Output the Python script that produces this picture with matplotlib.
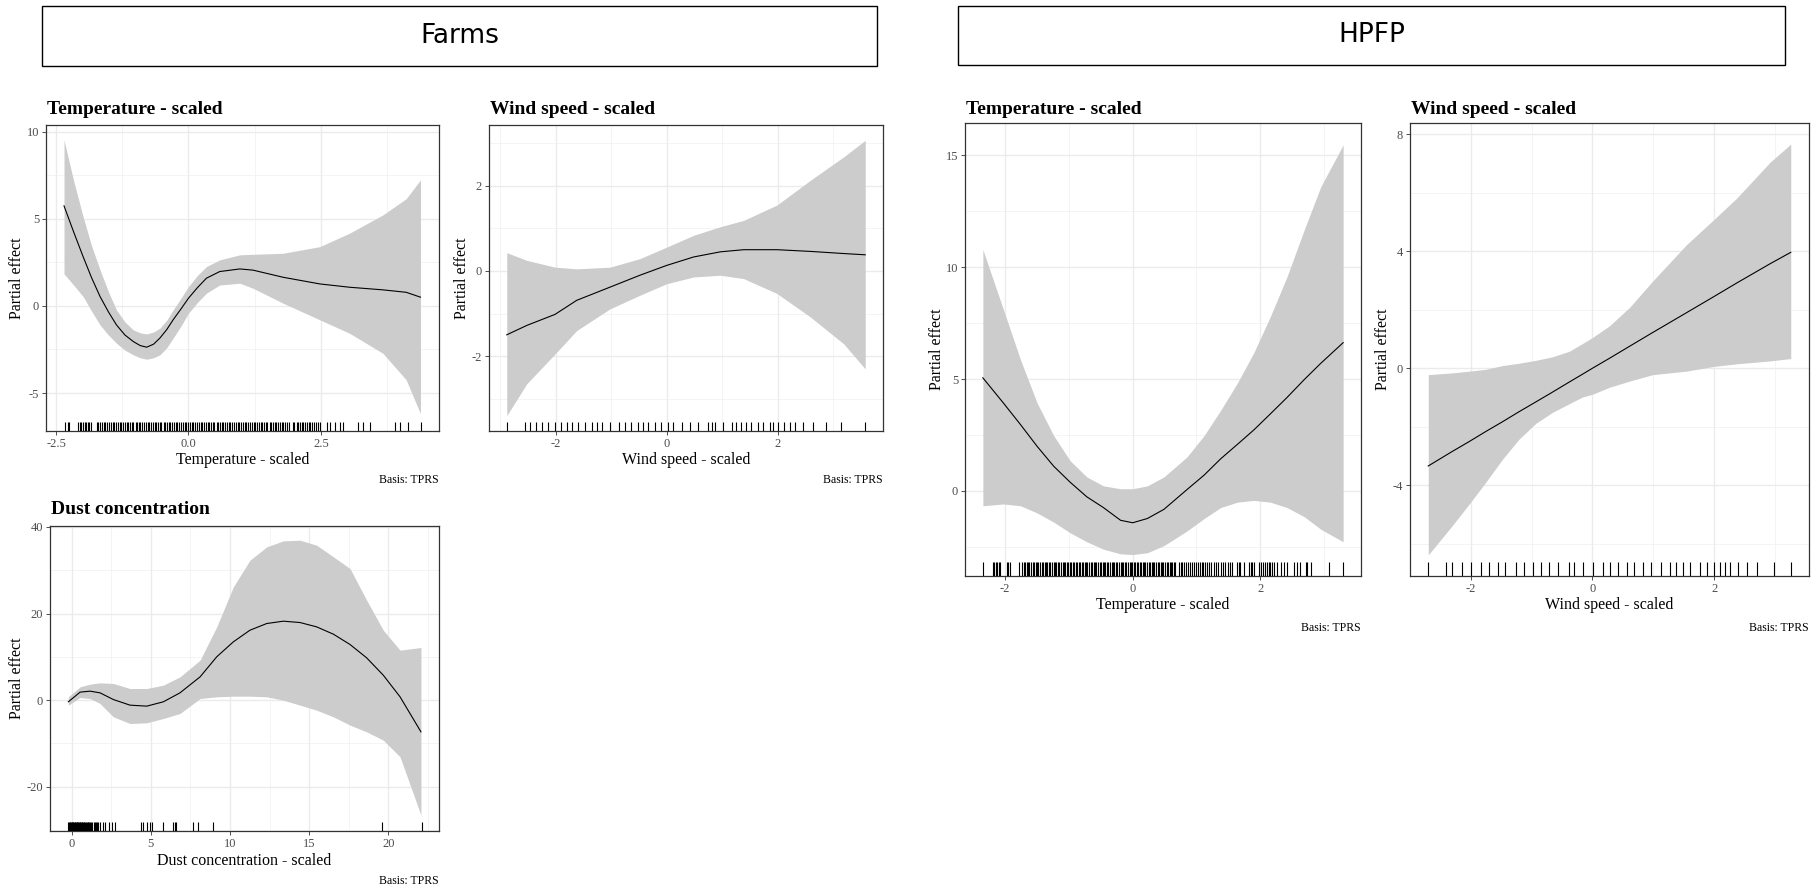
import matplotlib
matplotlib.use("Agg")
import matplotlib.pyplot as plt
from matplotlib.patches import Rectangle

plt.rcParams['font.family'] = ['Liberation Serif', 'DejaVu Serif']
plt.rcParams['axes.unicode_minus'] = False

W, H = 1818, 889

# ---------------- Farms: temperature ----------------
farm_temp_x = [-2.35, -2.17, -1.99, -1.83, -1.67, -1.51, -1.36, -1.20, -1.04, -0.91, -0.79,
               -0.66, -0.54, -0.41, -0.29, -0.14, 0.00, 0.17, 0.34, 0.59, 0.97, 1.22,
               1.79, 2.48, 3.04, 3.67, 4.11, 4.38]
farm_temp_fit = [5.74, 4.26, 2.83, 1.62, 0.54, -0.35, -1.09, -1.67, -2.05, -2.28, -2.37,
                 -2.20, -1.85, -1.36, -0.80, -0.17, 0.44, 1.05, 1.59, 1.97, 2.12, 2.05,
                 1.64, 1.26, 1.07, 0.92, 0.78, 0.50]
farm_temp_hi = [9.52, 7.20, 5.12, 3.45, 2.07, 0.80, -0.23, -0.92, -1.38, -1.55, -1.61,
                -1.50, -1.28, -0.82, -0.23, 0.45, 1.11, 1.75, 2.26, 2.64, 2.93, 2.96,
                3.02, 3.40, 4.17, 5.22, 6.15, 7.23]
farm_temp_lo = [1.84, 1.20, 0.54, -0.30, -1.09, -1.68, -2.14, -2.54, -2.81, -2.98, -3.06,
                -2.98, -2.81, -2.40, -1.85, -1.15, -0.42, 0.20, 0.73, 1.20, 1.30, 1.01,
                0.15, -0.80, -1.57, -2.72, -4.24, -6.19]
farm_temp_rug = [-2.33, -2.28, -2.25, -2.08, -2.05, -2.02, -1.99, -1.96, -1.93, -1.90,
                 -1.87, -1.84, -1.73, -1.70, -1.67, -1.63, -1.60, -1.57, -1.53, -1.50,
                 -1.47, -1.43, -1.41, -1.37, -1.34, -1.30, -1.27, -1.24, -1.20, -1.17,
                 -1.14, -1.10, -1.07, -1.04, -1.00, -0.97, -0.94, -0.91, -0.87, -0.84,
                 -0.81, -0.77, -0.74, -0.71, -0.67, -0.64, -0.61, -0.57, -0.54, -0.51,
                 -0.47, -0.44, -0.41, -0.37, -0.34, -0.31, -0.27, -0.24, -0.21, -0.17,
                 -0.14, -0.11, -0.07, -0.04, -0.01, 0.03, 0.06, 0.09, 0.13, 0.16,
                 0.19, 0.23, 0.26, 0.29, 0.33, 0.36, 0.39, 0.43, 0.46, 0.49,
                 0.53, 0.56, 0.59, 0.63, 0.66, 0.69, 0.73, 0.76, 0.79, 0.83,
                 0.86, 0.89, 0.93, 0.96, 0.99, 1.03, 1.06, 1.09, 1.13, 1.16,
                 1.19, 1.23, 1.26, 1.29, 1.33, 1.36, 1.39, 1.43, 1.46, 1.49,
                 1.53, 1.56, 1.59, 1.63, 1.66, 1.69, 1.73, 1.76, 1.79, 1.83,
                 1.86, 1.89, 1.97, 2.00, 2.04, 2.07, 2.10, 2.14, 2.17, 2.20,
                 2.24, 2.27, 2.30, 2.34, 2.37, 2.40, 2.44, 2.48, 2.61, 2.67,
                 2.76, 2.86, 2.92, 3.20, 3.29, 3.42, 3.90, 3.99, 4.14, 4.39]

# ---------------- Farms: wind speed ----------------
farm_wind_x = [-2.88, -2.52, -2.01, -1.62, -1.02, -0.48, 0.00, 0.49, 0.97, 1.39,
               1.99, 2.59, 3.19, 3.58]
farm_wind_fit = [-1.50, -1.28, -1.02, -0.69, -0.38, -0.10, 0.13, 0.33, 0.45, 0.50,
                 0.50, 0.46, 0.41, 0.38]
farm_wind_hi = [0.43, 0.25, 0.09, 0.05, 0.09, 0.29, 0.56, 0.84, 1.04, 1.19,
                1.55, 2.13, 2.68, 3.07]
farm_wind_lo = [-3.40, -2.65, -1.95, -1.40, -0.89, -0.57, -0.30, -0.14, -0.10, -0.18,
                -0.53, -1.08, -1.71, -2.30]
farm_wind_rug = [-2.88, -2.56, -2.46, -2.36, -2.25, -2.14, -2.01, -1.90, -1.80, -1.70,
                 -1.59, -1.47, -1.35, -1.26, -1.16, -1.02, -0.86, -0.75, -0.64, -0.52,
                 -0.42, -0.33, -0.21, -0.10, 0.02, 0.12, 0.27, 0.42, 0.57, 0.75,
                 0.82, 0.87, 1.02, 1.17, 1.26, 1.35, 1.44, 1.53, 1.64, 1.74,
                 1.86, 1.92, 2.01, 2.12, 2.22, 2.31, 2.46, 2.64, 2.88, 3.15, 3.57]

# ---------------- Farms: dust concentration ----------------
dust_x = [-0.21, 0.53, 1.16, 1.79, 2.63, 3.68, 4.74, 5.79, 6.84, 8.11, 9.16, 10.21,
          11.26, 12.32, 13.37, 14.42, 15.47, 16.53, 17.58, 18.63, 19.68, 20.74, 22.06]
dust_fit = [-0.38, 1.85, 2.08, 1.69, 0.15, -1.15, -1.38, -0.38, 1.69, 5.38, 10.00, 13.46,
            16.15, 17.69, 18.23, 17.92, 16.92, 15.23, 12.85, 9.77, 5.77, 0.77, -7.31]
dust_hi = [0.77, 3.08, 3.69, 4.00, 3.85, 2.69, 2.69, 3.46, 5.38, 9.23, 16.92, 26.15,
           32.31, 35.38, 36.77, 36.92, 35.77, 33.08, 30.38, 23.08, 16.15, 11.54, 12.15]
dust_lo = [-1.15, 0.62, 0.38, -0.77, -3.85, -5.38, -5.23, -4.23, -3.08, 0.38, 0.77, 0.92,
           0.92, 0.77, 0.00, -1.15, -2.31, -3.85, -5.77, -7.31, -9.23, -13.08, -26.54]
dust_rug = [-0.21, -0.17, -0.13, -0.09, -0.05, -0.01, 0.03, 0.07, 0.11, 0.15,
            0.19, 0.23, 0.27, 0.31, 0.35, 0.39, 0.43, 0.47, 0.51, 0.55,
            0.59, 0.63, 0.67, 0.71, 0.75, 0.80, 0.85, 0.90, 0.95, 1.00,
            1.06, 1.12, 1.18, 1.25, 1.31, 1.38, 1.45, 1.52, 1.60, 1.68,
            1.79, 1.96, 2.10, 2.38, 2.53, 2.74, 4.36, 4.49, 4.74, 4.95,
            5.05, 5.75, 6.42, 6.51, 6.59, 7.68, 8.00, 8.95, 19.58, 22.11]

# ---------------- HPFP: temperature ----------------
hpfp_temp_x = [-2.35, -2.03, -1.76, -1.50, -1.24, -0.98, -0.72, -0.46, -0.19, 0.00, 0.23,
               0.49, 0.85, 1.12, 1.38, 1.64, 1.90, 2.16, 2.42, 2.69, 2.95, 3.30]
hpfp_temp_fit = [5.06, 3.94, 2.97, 2.00, 1.11, 0.39, -0.26, -0.74, -1.31, -1.42, -1.23,
                 -0.82, 0.06, 0.71, 1.44, 2.08, 2.73, 3.45, 4.18, 4.98, 5.71, 6.63]
hpfp_temp_hi = [10.79, 8.13, 5.87, 3.94, 2.48, 1.35, 0.63, 0.23, 0.10, 0.10, 0.23,
                0.63, 1.52, 2.48, 3.61, 4.82, 6.19, 7.81, 9.58, 11.68, 13.61, 15.47]
hpfp_temp_lo = [-0.66, -0.58, -0.66, -0.98, -1.39, -1.87, -2.27, -2.60, -2.81, -2.84, -2.76,
                -2.44, -1.79, -1.23, -0.74, -0.50, -0.42, -0.50, -0.74, -1.15, -1.71, -2.27]
hpfp_temp_rug = [-2.35, -2.19, -2.17, -2.15, -2.13, -2.10, -2.08, -1.97, -1.95, -1.92,
                 -1.79, -1.73, -1.71, -1.69, -1.66, -1.64, -1.62, -1.59, -1.57, -1.55,
                 -1.52, -1.50, -1.48, -1.45, -1.43, -1.41, -1.38, -1.36, -1.34, -1.31,
                 -1.29, -1.27, -1.24, -1.22, -1.20, -1.17, -1.15, -1.13, -1.10, -1.08,
                 -1.06, -1.03, -1.01, -0.99, -0.96, -0.94, -0.92, -0.89, -0.87, -0.85,
                 -0.82, -0.80, -0.78, -0.75, -0.73, -0.71, -0.68, -0.66, -0.64, -0.61,
                 -0.59, -0.57, -0.54, -0.52, -0.50, -0.47, -0.45, -0.43, -0.40, -0.38,
                 -0.36, -0.33, -0.31, -0.29, -0.26, -0.24, -0.22, -0.19, -0.17, -0.15,
                 -0.12, -0.10, -0.08, -0.05, -0.03, -0.01, 0.02, 0.04, 0.06, 0.09,
                 0.11, 0.13, 0.16, 0.18, 0.20, 0.23, 0.25, 0.27, 0.30, 0.32,
                 0.34, 0.37, 0.39, 0.41, 0.44, 0.46, 0.48, 0.51, 0.53, 0.55,
                 0.58, 0.60, 0.62, 0.65, 0.67, 0.72, 0.75, 0.78, 0.81, 0.84,
                 0.87, 0.90, 0.93, 0.96, 0.99, 1.02, 1.05, 1.08, 1.11, 1.14,
                 1.17, 1.20, 1.23, 1.27, 1.30, 1.34, 1.38, 1.41, 1.45, 1.49,
                 1.53, 1.56, 1.64, 1.66, 1.69, 1.74, 1.82, 1.85, 1.87, 1.90,
                 1.98, 2.01, 2.04, 2.07, 2.10, 2.13, 2.16, 2.19, 2.21, 2.27,
                 2.32, 2.37, 2.42, 2.53, 2.58, 2.63, 2.71, 2.74, 2.79, 3.08, 3.30]

# ---------------- HPFP: wind speed ----------------
hpfp_wind_x = [-2.70, -2.31, -2.03, -1.76, -1.48, -1.21, -0.93, -0.66, -0.38, -0.16,
               0.00, 0.28, 0.61, 0.99, 1.54, 1.99, 2.37, 2.92, 3.26]
hpfp_wind_fit = [-3.34, -2.85, -2.51, -2.17, -1.83, -1.49, -1.15, -0.82, -0.47, -0.20,
                 0.00, 0.34, 0.75, 1.22, 1.89, 2.44, 2.91, 3.57, 3.96]
hpfp_wind_hi = [-0.22, -0.16, -0.10, -0.04, 0.09, 0.17, 0.27, 0.39, 0.58, 0.85,
                1.05, 1.45, 2.08, 2.98, 4.21, 5.07, 5.81, 7.04, 7.66]
hpfp_wind_lo = [-6.38, -5.39, -4.65, -3.91, -3.11, -2.43, -1.88, -1.51, -1.21, -0.98,
                -0.89, -0.65, -0.44, -0.22, -0.10, 0.06, 0.15, 0.25, 0.33]
hpfp_wind_rug = [-2.70, -2.40, -2.31, -2.14, -2.00, -1.84, -1.70, -1.56, -1.43, -1.26,
                 -1.12, -0.98, -0.85, -0.71, -0.57, -0.39, -0.30, -0.16, 0.01, 0.17,
                 0.28, 0.42, 0.56, 0.69, 0.83, 0.97, 1.13, 1.27, 1.38, 1.49,
                 1.60, 1.77, 1.88, 1.99, 2.10, 2.18, 2.26, 2.40, 2.54, 2.71,
                 2.98, 3.26]

fig = plt.figure(figsize=(W / 100, H / 100), dpi=100)


def fx(px):
    return px / W


def fy(py):
    return 1 - py / H


# header boxes
for (l, t, r, b), label in [((42, 6, 877, 66), "Farms"), ((958, 6, 1785, 65), "HPFP")]:
    fig.add_artist(Rectangle((fx(l), fy(b)), fx(r - l), (b - t) / H,
                             transform=fig.transFigure, facecolor='white',
                             edgecolor='black', linewidth=1.0))
    fig.text(fx((l + r) / 2), fy((t + b) / 2), label, ha='center', va='center',
             fontsize=19, family=['DejaVu Sans'])


def panel(box, x, fit, lo, hi, rug, xlim, ylim, xticks, xlabels, yticks,
          xminor, yminor, title, xlab, title_y, xlab_y, basis_y, ylab_x):
    l, t, r, b = box
    ax = fig.add_axes([fx(l), fy(b), fx(r - l), (b - t) / H])
    for v in xminor:
        ax.axvline(v, color='#F2F2F2', lw=0.6, zorder=0)
    for v in yminor:
        ax.axhline(v, color='#F2F2F2', lw=0.6, zorder=0)
    for v in xticks:
        ax.axvline(v, color='#EBEBEB', lw=1.0, zorder=0)
    for v in yticks:
        ax.axhline(v, color='#EBEBEB', lw=1.0, zorder=0)
    ax.fill_between(x, lo, hi, color='#CCCCCC', lw=0, zorder=1)
    ax.plot(x, fit, color='black', lw=0.8, zorder=2)
    ax.vlines(rug, 0, 0.03, transform=ax.get_xaxis_transform(),
              color='black', lw=0.8, zorder=3)
    ax.set_xlim(xlim)
    ax.set_ylim(ylim)
    ax.set_xticks(xticks)
    ax.set_xticklabels(xlabels)
    ax.set_yticks(yticks)
    ax.tick_params(length=3, width=0.6, color='#333333', labelcolor='#4D4D4D',
                   labelsize=9, pad=2)
    for s in ax.spines.values():
        s.set_color('#333333')
        s.set_linewidth(0.9)
    fig.text(fx(l + 1), fy(title_y), title, ha='left', va='center',
             fontsize=14, fontweight='bold')
    fig.text(fx((l + r) / 2), fy(xlab_y), xlab, ha='center', va='center', fontsize=11.5)
    fig.text(fx(r), fy(basis_y), "Basis: TPRS", ha='right', va='center', fontsize=8.5)
    fig.text(fx(ylab_x), fy((t + b) / 2), "Partial effect", ha='center', va='center',
             rotation=90, fontsize=11.5)
    return ax


panel((46, 125, 439, 431), farm_temp_x, farm_temp_fit, farm_temp_lo, farm_temp_hi,
      farm_temp_rug, (-2.69, 4.73), (-7.18, 10.38), [-2.5, 0, 2.5], ["-2.5", "0.0", "2.5"],
      [-5, 0, 5, 10], [-1.25, 1.25, 3.75], [-2.5, 2.5, 7.5],
      "Temperature - scaled", "Temperature - scaled", 109, 460, 480, 17)

panel((489, 125, 883, 431), farm_wind_x, farm_wind_fit, farm_wind_lo, farm_wind_hi,
      farm_wind_rug, (-3.2, 3.9), (-3.76, 3.43), [-2, 0, 2], ["-2", "0", "2"],
      [-2, 0, 2], [-3, -1, 1, 3], [-3, -1, 1, 3],
      "Wind speed - scaled", "Wind speed - scaled", 109, 460, 480, 462)

panel((50, 526, 439, 831), dust_x, dust_fit, dust_lo, dust_hi, dust_rug,
      (-1.37, 23.2), (-30.2, 40.2), [0, 5, 10, 15, 20], ["0", "5", "10", "15", "20"],
      [-20, 0, 20, 40], [2.5, 7.5, 12.5, 17.5, 22.5], [-30, -10, 10, 30],
      "Dust concentration", "Dust concentration - scaled", 510, 861, 881, 17)

panel((965, 123, 1361, 576), hpfp_temp_x, hpfp_temp_fit, hpfp_temp_lo, hpfp_temp_hi,
      hpfp_temp_rug, (-2.63, 3.58), (-3.8, 16.45), [-2, 0, 2], ["-2", "0", "2"],
      [0, 5, 10, 15], [-3, -1, 1, 3], [-2.5, 2.5, 7.5, 12.5],
      "Temperature - scaled", "Temperature - scaled", 109, 605, 628, 937)

panel((1410, 123, 1809, 576), hpfp_wind_x, hpfp_wind_fit, hpfp_wind_lo, hpfp_wind_hi,
      hpfp_wind_rug, (-3.0, 3.56), (-7.1, 8.38), [-2, 0, 2], ["-2", "0", "2"],
      [-4, 0, 4, 8], [-3, -1, 1, 3], [-6, -2, 2, 6],
      "Wind speed - scaled", "Wind speed - scaled", 109, 605, 628, 1383)

fig.savefig("out.png", dpi=100)
